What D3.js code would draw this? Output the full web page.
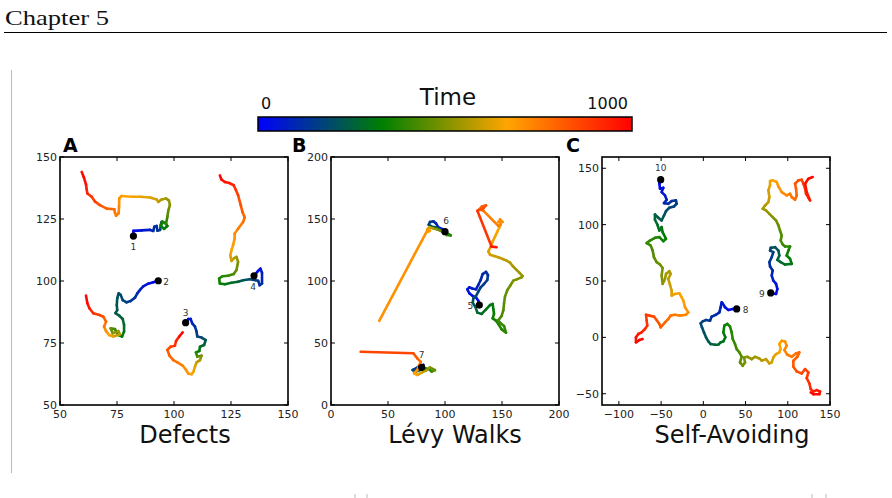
<!DOCTYPE html>
<html><head><meta charset="utf-8">
<script src="https://cdn.jsdelivr.net/npm/d3@7"></script>
<style>body{margin:0;background:#fff}svg{display:block}</style>
</head><body>
<svg id="c" width="892" height="498"></svg>
<script>
// ---------------- data ----------------
const panelLetters = ["A", "B", "C"];
const panelTitles = ["Defects", "Lévy Walks", "Self-Avoiding"];
const ticksA = [50, 75, 100, 125, 150];
const ticksB = [0, 50, 100, 150, 200];
const ticksCx = [-100, -50, 0, 50, 100, 150];
const ticksCy = [-50, 0, 50, 100, 150];
const domainA = [[50, 150], [50, 150]];
const domainB = [[0, 200], [0, 200]];
const domainC = [[-120, 150], [-60, 160]];
const timeLabels = ["0", "1000"];
const timeStops = [0, 1/3, 2/3, 1];
const timeColors = ["#0000ff", "#008000", "#ffa500", "#ff0000"];

// trajectories: [x, y, time fraction]
const walk1 = [[82.2,118.1,0],[82.2,120.2,0.02],[85.8,120.4,0.05],[89.5,120.6,0.08],[90.9,120.2,0.1],[91.4,121.9,0.11],[92.4,122.2,0.12],[92.7,120.3,0.13],[93.9,120.6,0.15],[94.2,122.6,0.2],
[94.6,123.9,0.25],[96.1,123.5,0.28],[97.1,122.2,0.3],[95.6,121,0.32],[94.3,122.2,0.34],[95,123.9,0.36],[96.5,123,0.38],
[97.1,125.9,0.42],[97.5,128.4,0.46],[98.2,130.6,0.5],[97.8,132.4,0.52],[96.5,133.3,0.54],[94.6,132.9,0.56],[93.1,131.9,0.58],[92.4,132.9,0.6],
[89.5,133.7,0.62],[85.1,134,0.64],[81.4,134,0.66],[77,134.3,0.68],[76,133.3,0.7],[75.9,130,0.72],[75.7,127.3,0.74],[74.6,126.3,0.75],[74.1,127.6,0.76],[73.8,128.9,0.77],[70.5,129.2,0.8],[67.5,130.6,0.83],[65.4,132,0.86],[63.9,134,0.89],[62,135.3,0.92],[61.7,137,0.94],[61.4,139,0.96],[60.5,141.7,0.98],[59.5,144,1]];
const walk2 = [[93.1,100.1,0],[90.9,99.5,0.02],[88.7,98.9,0.04],[86.5,97.8,0.06],[85.1,96.4,0.08],[83.9,95,0.1],[82.9,93.3,0.12],[81,91.9,0.14],[79.2,91.4,0.16],[77.5,92.3,0.18],[76.6,94.4,0.19],[75.7,95,0.2],[75.1,93,0.21],[74.9,90.3,0.22],[75.1,88.3,0.23],[74.3,87,0.24],[76,86,0.25],[77.5,84.7,0.26],[78.1,82.3,0.28],[78.1,79.6,0.3],[77.2,77.6,0.32],[75.7,78.2,0.35],
[74.1,80.6,0.4],[72.2,80.9,0.45],[73.1,78.9,0.5],[75.6,79.8,0.53],[76.3,78.5,0.56],
[73.4,77.6,0.62],[71.6,78.2,0.66],[70.2,79.8,0.7],[69.3,81.6,0.74],[70.2,83.6,0.78],[69,85.6,0.82],
[67.3,86.3,0.86],[64.6,87,0.9],[62.9,89,0.94],[62,91,0.97],[61.4,94.1,1]];
const walk3 = [[105.1,83.2,0],[106.3,84.7,0.03],[107.3,84.7,0.05],[108,82.9,0.08],[109.2,81.6,0.1],[109.9,79.6,0.13],[110.2,77.6,0.16],[112.1,77.2,0.19],[113.9,76.2,0.22],[113.2,74.2,0.25],[111.4,73.5,0.28],[111.1,71.8,0.32],[109.6,71.2,0.36],[110.2,69.5,0.42],[112.1,69.9,0.48],[111.4,68.1,0.54],[109.9,67.2,0.58],[109.2,65.5,0.62],[108.5,63.4,0.65],[107.7,62.4,0.67],[106.3,62.6,0.69],[105.3,64.1,0.71],[103.8,65.9,0.73],[101.5,67.2,0.76],[99.7,68.1,0.78],[98,69.9,0.8],[97.1,72.2,0.83],[98.5,73.5,0.86],[100.4,73.9,0.89],[100.9,75.8,0.92],[102.3,77.6,0.96],[103.8,79.3,1]];
const walk4 = [[135.1,102.1,0],[136.9,104.1,0.03],[137.9,105,0.05],[138.6,103.3,0.07],[138.6,99,0.1],[137.6,98.3,0.12],[136.9,100.1,0.14],[135.8,100.3,0.16],[133.2,100.7,0.19],[130.3,100.3,0.22],[128.1,99.7,0.25],[125.2,99.3,0.28],[122.3,98.7,0.31],[120.1,99,0.34],[119.8,101,0.36],[121.2,101.9,0.38],[123.7,102.1,0.4],[126.2,102.8,0.43],[127.4,104.4,0.46],[128.1,107.7,0.5],[127.4,109.7,0.54],[126.2,109.1,0.57],[125.2,108.1,0.6],[124.7,110.4,0.63],[125.3,112.7,0.66],[125.9,114.4,0.68],[126.6,117.1,0.7],[126.6,119.1,0.72],[128.1,121.1,0.74],[130.3,123.8,0.77],[131,125.6,0.79],[130,127.9,0.81],[129.3,130.5,0.83],[128.1,134.6,0.86],[127.1,136.8,0.89],[126.2,138.6,0.92],[124.2,139.5,0.94],[122.3,139.9,0.96],[120.8,140.9,0.98],[120.1,142.6,1]];
const walk5 = [[130.1,80.6,0],[129.2,84.1,0.01],[127.2,86.8,0.02],[124.3,87.9,0.03],[121.3,90.1,0.04],[119.6,93.3,0.05],[121.3,94.9,0.06],[124.3,93.8,0.07],[127.2,93.3,0.08],[129.2,96.8,0.09],[131.3,100.8,0.1],[133,105.6,0.11],[136,107.3,0.12],[137.7,104.8,0.13],[137.1,100.8,0.14],[134.2,97.6,0.15],[131.3,94.9,0.16],[129.2,91.4,0.17],[127.2,87.9,0.18],[124.9,86,0.2],[124.3,82.5,0.22],[126.6,79.3,0.24],[128.4,74.5,0.26],[132.2,73.4,0.28],[136,77.2,0.3],[139.5,80.6,0.31],[141.8,81.5,0.32],[142.4,77.2,0.33],[143,73.4,0.34],[141.8,69.9,0.35],[144.7,68,0.36],[146.8,65.3,0.37],[149.7,61,0.38],[153.5,58.3,0.39],[151.8,63.7,0.4],[148.2,66.4,0.41],[146.8,68.5,0.42],[149.7,71.8,0.43],[151.2,76.6,0.44],[151.8,82,0.45],[152.6,87.4,0.46],[154.7,92.7,0.47],[157.6,96.8,0.48],[159.9,100.3,0.49],[162.9,101.3,0.5],[167.3,103,0.51],[168.1,104,0.52],[165.2,106.7,0.53],[162.3,109.4,0.54],[159.4,112.1,0.55],[157,114.8,0.56],[154.1,116.4,0.57],[151.2,117.5,0.58],[146.8,119.1,0.59],[143,120.2,0.6],[139.5,121.2,0.61],[138,123.7,0.62],[140.1,127.7,0.63],[141.8,131.7,0.64],[143.9,135.8,0.65],[145.9,139.8,0.66],[147.7,143.3,0.67],[148.8,146.5,0.68],[146.8,147.8,0.69],[150.6,147.6,0.7],[148.2,149.7,0.71],[148.8,145.2,0.72],[146.8,144.4,0.73],[133.6,156.7,0.76],[130.1,157.8,0.78],[132.2,159.9,0.8],[136,161,0.82],[133.6,158.6,0.84],[128.4,156.7,0.86],[140.9,127.7,0.92],[145.3,127.2,1]];
const walk6 = [[100,139.8,0],[98,141.7,0.03],[94.2,143.3,0.06],[92.1,146.5,0.09],[89.8,148.1,0.12],[86.8,147.6,0.15],[85.7,145.4,0.18],[88.3,143.8,0.21],[92.1,143.3,0.24],[94.7,141.7,0.27],[100,139,0.3],[102.9,137.9,0.33],[105,136.8,0.36],[101.5,137.1,0.4],[97.1,140.1,0.45],[92.7,141.7,0.5],[89.2,142.5,0.55],[86.3,143.3,0.6],[84.5,141.7,0.63],[86.8,140.6,0.66],[85.4,139.8,0.69],[84.5,140.9,0.7],[42.3,67.9,0.72]];
const walk7 = [[79.5,30.4,0],[81,32.3,0.04],[77.5,31.5,0.08],[74.6,29.6,0.12],[71.6,28.2,0.16],[74.6,26.9,0.2],[78.1,28.2,0.25],[82.5,29.6,0.3],[86.3,28.8,0.35],[88.3,26.9,0.4],[91.2,28.2,0.45],[86.8,30.4,0.5],[83.3,27.7,0.55],[79.5,26.1,0.6],[75.7,24.2,0.64],[72.8,25.5,0.67],[75.7,28.2,0.7],[77.5,32.3,0.73],[78.7,34.9,0.76],[75.7,37.6,0.8],[72.2,41.7,0.84],[26,43,0.88]];
const walk8 = [[39.5,25.2],[34.8,25.2],[29.6,24.3],[25.7,26.7],[22.9,30.2],[21.7,31.1],[20.5,26.7],[19,22.2],[15,20.1],[9.9,18.4],[7.9,14.8],[3.2,15.4],[-0.8,14.2],[-3.2,12.4],[-1.6,8.9],[0.8,4.4],[3.2,0],[5.9,-3.6],[8.7,-5.9],[13.8,-6.5],[17.8,-6.5],[20.5,-4.4],[23.7,-3.6],[26.1,0],[23.7,4.4],[24.9,10.4],[28.4,11.9],[31.6,9.5],[33.6,4.4],[34.8,-1.5],[37.5,-5.9],[39.5,-10.4],[42.7,-13.3],[45.4,-17.2],[43.4,-22.2],[46.6,-25.2],[49.4,-22.2],[48.2,-17.8],[52.1,-17.2],[57.3,-19.3],[61.2,-17.2],[66.4,-18.7],[69.1,-20.7],[74.2,-19.3],[78.2,-23.1],[81,-22.2],[82.9,-17.8],[86.1,-14.8],[90,-13.3],[91.6,-10.4],[90,-5.9],[92.8,-3],[96.8,-3.6],[98.7,-7.4],[96,-11.3],[99.5,-15.4],[104.7,-17.2],[109.8,-14.2],[113.7,-13.3],[111.4,-17.2],[106.6,-20.7],[106.6,-26.1],[110.6,-30.2],[116.5,-32],[120.5,-28.1],[124.4,-31.1],[122.4,-36.1],[125.6,-40.9],[127.2,-45.9],[130.3,-48],[134.3,-46.8],[138.2,-48],[137.4,-50.4],[130.3,-50.4],[127.2,-48.9]];
const walk9 = [[79.8,39.4],[86.1,38.5],[87.7,43],[86.1,47.4],[82.9,50.4],[81,54.8],[82.1,59.3],[79,62.8],[78.2,66.7],[81,71.1],[82.9,75.6],[79,77],[79.8,79.4],[84.9,80],[88.9,77],[90,72.6],[87.7,68.7],[91.6,66.7],[96.8,64.6],[104.7,65.2],[102.7,69.6],[98.7,72.6],[100.7,77],[102.7,80.6],[96.8,80.6],[94,82.4],[91.6,85.9],[92.8,90.4],[90.8,94.8],[88.9,99.3],[86.1,103.7],[82.1,106.7],[78.2,109.6],[74.2,112.6],[70.3,114.1],[73.1,117],[77,120],[78.2,124.4],[77,130.4],[79,134.8],[79,138.7],[82.1,139.3],[86.9,137.8],[88.9,133.9],[92.8,128.9],[98.7,125.9],[102.7,127.4],[104.7,124.4],[108.6,122.1],[110.6,125.9],[109.8,131.9],[108.6,136.3],[112.6,139.3],[116.5,139.9],[118.5,136.3],[120.5,131.9],[121.6,127.4],[124.4,123.9],[126.4,121.5],[122.4,128.9],[120.5,136.3],[124.4,140.7],[129.5,142.2]];
const walk10 = [[-50.5,139.9],[-52.1,136.3],[-51.3,131.9],[-47.4,132.7],[-49.4,128.9],[-45.4,125.9],[-43.4,122.1],[-46.6,119.1],[-41.5,118.5],[-37.5,120.9],[-32.4,121.5],[-31.6,118.5],[-34.8,116.1],[-40.3,115],[-44.2,112],[-46.6,108.1],[-49.4,103.7],[-53.3,106.1],[-57.3,109],[-57.3,104.3],[-54.5,100.1],[-52.1,94.8],[-49.4,97.8],[-48.2,93.3],[-44.2,87.4],[-47.4,85.3],[-52.1,88.9],[-57.3,88.3],[-63.2,85.9],[-67.1,83.6],[-62.4,81.5],[-60,77],[-58.5,71.1],[-55.3,66.7],[-51.3,64.6],[-48.2,61.6],[-49.4,54.8],[-48.2,47.4],[-45.4,51.9],[-44.2,56.3],[-40.3,58.7],[-38.7,56.3],[-41.5,51.9],[-39.5,46.8],[-37.5,41.5],[-37.5,37],[-33.6,38.5],[-28.4,39.1],[-25.7,35.6],[-23.7,32.6],[-21.7,26.7],[-17.8,22.2],[-20.5,20.1],[-27.6,19.3],[-33.6,20.1],[-38.7,19.3],[-41.5,16.3],[-45.4,13.3],[-50.5,8.9],[-52.1,11.9],[-55.3,15.4],[-58.5,18.4],[-64,19.3],[-67.9,20.1],[-67.1,14.8],[-66.4,10.4],[-69.1,7.4],[-73.1,4.4],[-77,3],[-79.8,0],[-79.8,-4.4],[-75.8,-2.4],[-71.9,-1.5]];

const walkIds = ["1","2","3","4","5","6","7","8","9","10"];
const walks = [walk1, walk2, walk3, walk4, walk5, walk6, walk7, walk8, walk9, walk10];
const walkPanel = [0,0,0,0,1,1,1,2,2,2];

// ---------------- drawing ----------------
const svg = d3.select("#c");
const FONT = "DejaVu Sans, sans-serif";

// page header
svg.append("text").attr("x", 5).attr("y", 25).attr("font-family", "Liberation Serif, serif")
  .attr("font-size", 21).attr("textLength", 104).attr("lengthAdjust", "spacingAndGlyphs")
  .attr("fill", "#111").text("Chapter 5");
svg.append("line").attr("x1", 4).attr("x2", 887).attr("y1", 32.5).attr("y2", 32.5)
  .attr("stroke", "#000").attr("stroke-width", 1.2);
svg.append("line").attr("x1", 11.5).attr("x2", 11.5).attr("y1", 70).attr("y2", 473)
  .attr("stroke", "#bbb").attr("stroke-width", 1);
// tiny marks of the caption that is cut off at the page bottom
[355, 367, 812, 826].forEach(x => {
  svg.append("line").attr("x1", x).attr("x2", x).attr("y1", 494).attr("y2", 498)
    .attr("stroke", "#bbb").attr("stroke-width", 1);
});

const color = d3.scaleLinear().domain(timeStops).range(timeColors).interpolate(d3.interpolateRgb);

// colorbar
const cb = {x0: 258, x1: 632, y0: 117, y1: 131};
const grad = svg.append("defs").append("linearGradient").attr("id", "tg");
timeStops.forEach((s, i) => grad.append("stop").attr("offset", s).attr("stop-color", timeColors[i]));
svg.append("rect").attr("x", cb.x0).attr("y", cb.y0).attr("width", cb.x1 - cb.x0).attr("height", cb.y1 - cb.y0)
  .attr("fill", "url(#tg)").attr("stroke", "#000").attr("stroke-width", 1.5);
svg.append("text").attr("x", 448).attr("y", 105).attr("text-anchor", "middle").attr("font-family", FONT)
  .attr("font-size", 23).attr("fill", "#111").text("Time");
svg.append("text").attr("x", 266).attr("y", 109).attr("text-anchor", "middle").attr("font-family", FONT)
  .attr("font-size", 16).attr("fill", "#111").text(timeLabels[0]);
svg.append("text").attr("x", 628).attr("y", 109).attr("text-anchor", "end").attr("font-family", FONT)
  .attr("font-size", 16).attr("fill", "#111").text(timeLabels[1]);

const panels = [
  {x0: 60, x1: 288, y0: 157, y1: 405, dom: domainA, tx: ticksA, ty: ticksA, lx: 63, tcx: 185},
  {x0: 331, x1: 559, y0: 157, y1: 405, dom: domainB, tx: ticksB, ty: ticksB, lx: 292, tcx: 455},
  {x0: 602, x1: 830, y0: 157, y1: 405, dom: domainC, tx: ticksCx, ty: ticksCy, lx: 566, tcx: 732}
];
panels.forEach((p, k) => {
  p.sx = d3.scaleLinear().domain(p.dom[0]).range([p.x0, p.x1]);
  p.sy = d3.scaleLinear().domain(p.dom[1]).range([p.y1, p.y0]);
  const g = svg.append("g");
  const fmt = d3.format("d");
  const tl = 4;
  p.tx.forEach(v => {
    const x = p.sx(v);
    g.append("line").attr("x1", x).attr("x2", x).attr("y1", p.y1).attr("y2", p.y1 - tl).attr("stroke", "#000");
    g.append("line").attr("x1", x).attr("x2", x).attr("y1", p.y0).attr("y2", p.y0 + tl).attr("stroke", "#000");
    g.append("text").attr("x", x).attr("y", p.y1 + 13).attr("text-anchor", "middle").attr("font-family", FONT)
      .attr("font-size", 11).attr("fill", "#222").text(fmt(v).replace("-", "\u2212"));
  });
  p.ty.forEach(v => {
    const y = p.sy(v);
    g.append("line").attr("x1", p.x0).attr("x2", p.x0 + tl).attr("y1", y).attr("y2", y).attr("stroke", "#000");
    g.append("line").attr("x1", p.x1).attr("x2", p.x1 - tl).attr("y1", y).attr("y2", y).attr("stroke", "#000");
    g.append("text").attr("x", p.x0 - 3).attr("y", y + 4).attr("text-anchor", "end").attr("font-family", FONT)
      .attr("font-size", 11).attr("fill", "#222").text(fmt(v).replace("-", "\u2212"));
  });
  g.append("rect").attr("x", p.x0).attr("y", p.y0).attr("width", p.x1 - p.x0).attr("height", p.y1 - p.y0)
    .attr("fill", "none").attr("stroke", "#000").attr("stroke-width", 1.6);
  svg.append("text").attr("x", p.lx).attr("y", 152).attr("font-family", FONT).attr("font-weight", "bold")
    .attr("font-size", 19).attr("fill", "#000").text(panelLetters[k]);
  svg.append("text").attr("x", p.tcx).attr("y", 443).attr("text-anchor", "middle").attr("font-family", FONT)
    .attr("font-size", 24).attr("fill", "#111").text(panelTitles[k]);
});

// trajectories
const labelPos = {"1": [0, 14, "middle"], "2": [5, 4, "start"], "3": [0, -7, "middle"], "4": [-1, 14, "middle"],
  "5": [-6, 4, "end"], "6": [1, -8, "middle"], "7": [0, -9, "middle"], "8": [6, 4, "start"],
  "9": [-6, 4, "end"], "10": [0, -9, "middle"]};
walks.forEach((w, k) => {
  const p = panels[walkPanel[k]];
  const n = w.length;
  const pts = w.map((d, i) => ({x: p.sx(d[0]), y: p.sy(d[1]), t: d.length > 2 ? d[2] : i / (n - 1)}));
  const g = svg.append("g");
  for (let i = 0; i < n - 1; i++) {
    g.append("line").attr("x1", pts[i].x).attr("y1", pts[i].y).attr("x2", pts[i + 1].x).attr("y2", pts[i + 1].y)
      .attr("stroke", color((pts[i].t + pts[i + 1].t) / 2)).attr("stroke-width", 2.6).attr("stroke-linecap", "round");
  }
  g.append("circle").attr("cx", pts[0].x).attr("cy", pts[0].y).attr("r", 3.6).attr("fill", "#000");
  const lp = labelPos[walkIds[k]];
  g.append("text").attr("x", pts[0].x + lp[0]).attr("y", pts[0].y + lp[1]).attr("text-anchor", lp[2])
    .attr("font-family", FONT).attr("font-size", 9).attr("fill", "#333").text(walkIds[k]);
});
</script>
</body></html>
